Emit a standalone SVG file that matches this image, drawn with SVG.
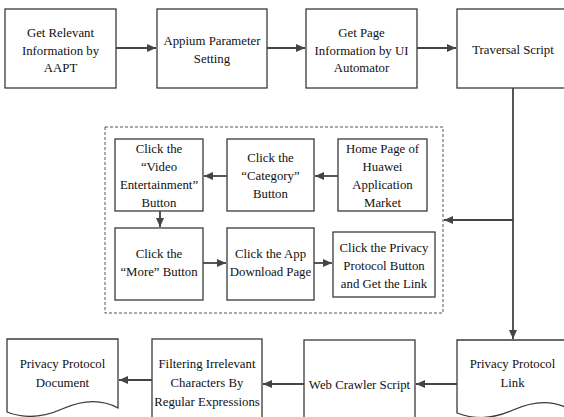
<svg xmlns="http://www.w3.org/2000/svg" width="564" height="417" viewBox="0 0 564 417">
<style>
.b{fill:#fff;stroke:#3a3a3a;stroke-width:1.3}
.t{font-family:"Liberation Serif","Times New Roman",serif;font-size:12.8px;fill:#111;text-anchor:middle}
.c{fill:none;stroke:#444;stroke-width:1.8}
.d{fill:none;stroke:#555;stroke-width:1;stroke-dasharray:3 2}
</style>
<defs>
<marker id="ah" markerWidth="10" markerHeight="10" refX="9" refY="5" orient="auto" markerUnits="userSpaceOnUse">
<path d="M0,1 L9,5 L0,9 Z" fill="#444"/>
</marker>
</defs>
<rect width="564" height="417" fill="#fff"/>
<rect id="group-box" class="d" x="105" y="127" width="338" height="186"/>
<g id="n1"><rect class="b" x="5" y="9" width="111" height="79"/><text class="t" x="60.5" y="37">Get Relevant</text><text class="t" x="60.5" y="54.5">Information by</text><text class="t" x="60.5" y="72">AAPT</text></g>
<g id="n2"><rect class="b" x="157" y="9" width="110" height="79"/><text class="t" x="212" y="45">Appium Parameter</text><text class="t" x="212" y="63">Setting</text></g>
<g id="n3"><rect class="b" x="306" y="9" width="111" height="79"/><text class="t" x="361.5" y="37">Get Page</text><text class="t" x="361.5" y="54.5">Information by UI</text><text class="t" x="361.5" y="72">Automator</text></g>
<g id="n4"><rect class="b" x="457" y="9" width="112" height="79"/><text class="t" x="513" y="54">Traversal Script</text></g>
<g id="a"><rect class="b" x="115" y="139" width="88" height="72"/><text class="t" x="159" y="153">Click the</text><text class="t" x="159" y="171">“Video</text><text class="t" x="159" y="189">Entertainment”</text><text class="t" x="159" y="207">Button</text></g>
<g id="b"><rect class="b" x="227" y="139" width="87" height="72"/><text class="t" x="270.5" y="162">Click the</text><text class="t" x="270.5" y="180">“Category”</text><text class="t" x="270.5" y="198">Button</text></g>
<g id="c"><rect class="b" x="338" y="139" width="89" height="72"/><text class="t" x="382.5" y="153">Home Page of</text><text class="t" x="382.5" y="171">Huawei</text><text class="t" x="382.5" y="189">Application</text><text class="t" x="382.5" y="207">Market</text></g>
<g id="d"><rect class="b" x="115" y="228" width="88" height="72"/><text class="t" x="159" y="258">Click the</text><text class="t" x="159" y="276">“More” Button</text></g>
<g id="e"><rect class="b" x="227" y="228" width="87" height="72"/><text class="t" x="270.5" y="258">Click the App</text><text class="t" x="270.5" y="276">Download Page</text></g>
<g id="f"><rect class="b" x="333" y="232" width="102" height="65"/><text class="t" x="384" y="252">Click the Privacy</text><text class="t" x="384" y="270">Protocol Button</text><text class="t" x="384" y="288">and Get the Link</text></g>
<g id="doc1"><path class="b" d="M7,339 H118 V408 C100,398 82,400 62,409 C42,418 25,419 7,412 Z"/><text class="t" x="62.5" y="368">Privacy Protocol</text><text class="t" x="62.5" y="387">Document</text></g>
<g id="filter"><rect class="b" x="152" y="339" width="110" height="92"/><text class="t" x="207" y="368">Filtering Irrelevant</text><text class="t" x="207" y="387">Characters By</text><text class="t" x="207" y="406">Regular Expressions</text></g>
<g id="crawler"><rect class="b" x="304" y="340" width="111" height="92"/><text class="t" x="359.5" y="389">Web Crawler Script</text></g>
<g id="link"><path class="b" d="M457,340 H569 V409 C551,399 533,401 513,410 C493,419 476,420 457,413 Z"/><text class="t" x="512.5" y="368">Privacy Protocol</text><text class="t" x="512.5" y="387">Link</text></g>
<g id="connectors">
<line class="c" x1="116" y1="48" x2="156" y2="48" marker-end="url(#ah)"/>
<line class="c" x1="267" y1="48" x2="305" y2="48" marker-end="url(#ah)"/>
<line class="c" x1="417" y1="48" x2="456" y2="48" marker-end="url(#ah)"/>
<line class="c" x1="513" y1="88" x2="513" y2="339" marker-end="url(#ah)"/>
<line class="c" x1="513" y1="220" x2="444" y2="220" marker-end="url(#ah)"/>
<line class="c" x1="338" y1="176" x2="315" y2="176" marker-end="url(#ah)"/>
<line class="c" x1="227" y1="176" x2="204" y2="176" marker-end="url(#ah)"/>
<line class="c" x1="160" y1="211" x2="160" y2="227" marker-end="url(#ah)"/>
<line class="c" x1="203" y1="263" x2="226" y2="263" marker-end="url(#ah)"/>
<line class="c" x1="314" y1="263" x2="332" y2="263" marker-end="url(#ah)"/>
<line class="c" x1="457" y1="384" x2="416" y2="384" marker-end="url(#ah)"/>
<line class="c" x1="304" y1="384" x2="263" y2="384" marker-end="url(#ah)"/>
<line class="c" x1="152" y1="380" x2="119" y2="380" marker-end="url(#ah)"/>
</g>
</svg>
